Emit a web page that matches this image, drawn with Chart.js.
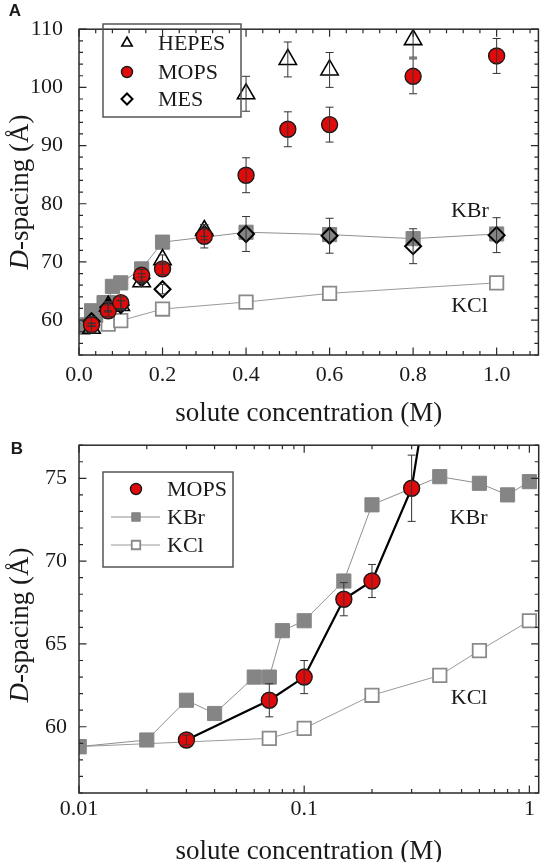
<!DOCTYPE html>
<html>
<head>
<meta charset="utf-8">
<script src="https://cdn.jsdelivr.net/npm/chart.js@4.4.0/dist/chart.umd.min.js"></script>
<style>
  html, body { margin: 0; padding: 0; background: #fff; width: 550px; height: 862px; overflow: hidden; }
  #a { position: absolute; left: 0; top: 0; width: 550px; height: 432px; }
  #b { position: absolute; left: 0; top: 420px; width: 550px; height: 442px; }
</style>
</head>
<body>
<div id="a"><canvas id="chartA"></canvas></div>
<div id="b"><canvas id="chartB"></canvas></div>
<script>
// solute concentration (M) vs D-spacing (Å)
var hepesX = [0.03, 0.07, 0.1, 0.15, 0.2, 0.3, 0.4, 0.5, 0.6, 0.8];
var hepesY = [58.6, 62.4, 62.5, 66.6, 70.4, 75.4, 98.9, 104.8, 103.0, 108.2];
var hepesErr = [0.8, 0.8, 0.8, 0.8, 0.8, 1.0, 3.0, 3.0, 3.0, 3.0];

var mopsX = [0.03, 0.07, 0.1, 0.15, 0.2, 0.3, 0.4, 0.5, 0.6, 0.8, 1.0];
var mopsY = [59.2, 61.6, 63.0, 67.7, 68.8, 74.4, 84.9, 92.8, 93.6, 101.9, 105.4];
var mopsErr = [0.3, 1.0, 1.0, 1.0, 1.0, 2.0, 3.0, 3.0, 3.0, 3.0, 3.0];

var mesX = [0.03, 0.07, 0.1, 0.15, 0.2, 0.3, 0.4, 0.6, 0.8, 1.0];
var mesY = [59.8, 62.2, 62.6, 67.2, 65.3, 74.8, 74.8, 74.5, 72.7, 74.6];
var mesErr = [0.8, 0.8, 0.8, 0.8, 0.8, 1.0, 3.0, 3.0, 3.0, 3.0];

var kbrX = [0.01, 0.02, 0.03, 0.04, 0.06, 0.07, 0.08, 0.1, 0.15, 0.2, 0.4, 0.6, 0.8, 1.0];
var kbrY = [58.8, 59.2, 61.6, 60.8, 63.0, 63.0, 65.8, 66.4, 68.8, 73.4, 75.1, 74.7, 74.0, 74.8];

var kclX = [0.01, 0.07, 0.1, 0.2, 0.4, 0.6, 1.0];
var kclY = [58.8, 59.3, 59.9, 61.9, 63.1, 64.6, 66.4];

var xTicksA = [0, 0.2, 0.4, 0.6, 0.8, 1.0];
var yTicksA = [60, 70, 80, 90, 100, 110];
var xTicksB = [0.01, 0.1, 1];
var yTicksB = [60, 65, 70, 75];

var SERIF = "'Liberation Serif', 'Times New Roman', serif";
var INK = '#1a1a1a';

function pts(xs, ys) {
  return xs.map(function (x, i) { return { x: x, y: ys[i] }; });
}

// minor tick positions
var minorXA = [], minorYA = [], minorXB = [], minorYB = [];
for (var i = 0; i <= 27; i++) minorXA.push(+(i * 0.04).toFixed(2));
for (var j = 54; j <= 110; j += 2) minorYA.push(j);
[0.01, 0.1].forEach(function (d) { for (var k = 2; k <= 9; k++) minorXB.push(d * k); });
for (var m = 56; m <= 77; m++) minorYB.push(m);

// error bars, drawn on top of the markers
var errorBars = {
  id: 'errorBars',
  afterDatasetsDraw: function (chart) {
    var ctx = chart.ctx, xs = chart.scales.x, ys = chart.scales.y, a = chart.chartArea;
    ctx.save();
    ctx.beginPath();
    ctx.rect(a.left, a.top, a.right - a.left, a.bottom - a.top);
    ctx.clip();
    ctx.strokeStyle = '#333';
    ctx.lineWidth = 1;
    chart.data.datasets.forEach(function (ds) {
      if (!ds.errors) return;
      ds.data.forEach(function (p, i) {
        var e = ds.errors[i];
        if (!e) return;
        var x = xs.getPixelForValue(p.x);
        var y1 = ys.getPixelForValue(p.y - e), y2 = ys.getPixelForValue(p.y + e);
        ctx.beginPath();
        ctx.moveTo(x, y1); ctx.lineTo(x, y2);
        ctx.moveTo(x - 4, y1); ctx.lineTo(x + 4, y1);
        ctx.moveTo(x - 4, y2); ctx.lineTo(x + 4, y2);
        ctx.stroke();
      });
    });
    ctx.restore();
  }
};

// box, inward ticks, titles, legend and labels
var decor = {
  id: 'decor',
  afterDraw: function (chart, args, o) {
    var ctx = chart.ctx, a = chart.chartArea, xs = chart.scales.x, ys = chart.scales.y;
    ctx.save();
    ctx.strokeStyle = '#2a2a2a';
    ctx.lineWidth = 1.5;
    ctx.strokeRect(a.left, a.top, a.right - a.left, a.bottom - a.top);

    ctx.lineWidth = 1.2;
    ctx.beginPath();
    function xt(v, len) {
      var x = xs.getPixelForValue(v);
      if (x < a.left - 0.5 || x > a.right + 0.5) return;
      ctx.moveTo(x, a.bottom); ctx.lineTo(x, a.bottom - len);
      ctx.moveTo(x, a.top); ctx.lineTo(x, a.top + len);
    }
    function yt(v, len) {
      var y = ys.getPixelForValue(v);
      if (y < a.top - 0.5 || y > a.bottom + 0.5) return;
      ctx.moveTo(a.left, y); ctx.lineTo(a.left + len, y);
      ctx.moveTo(a.right, y); ctx.lineTo(a.right - len, y);
    }
    o.minorX.forEach(function (v) { xt(v, 4); });
    o.minorY.forEach(function (v) { yt(v, 4); });
    xs.ticks.forEach(function (t) { xt(t.value, 7.5); });
    ys.ticks.forEach(function (t) { yt(t.value, 7.5); });
    ctx.stroke();

    ctx.fillStyle = INK;
    // x title
    ctx.font = '27px ' + SERIF;
    ctx.textAlign = 'center';
    ctx.textBaseline = 'middle';
    ctx.fillText('solute concentration (M)', (a.left + a.right) / 2, o.xTitleY);

    // y title with italic D
    ctx.save();
    ctx.translate(o.yTitleX, o.yTitleY);
    ctx.rotate(-Math.PI / 2);
    ctx.textAlign = 'left';
    ctx.textBaseline = 'alphabetic';
    ctx.font = 'italic 27px ' + SERIF;
    var wD = ctx.measureText('D').width;
    ctx.font = '27px ' + SERIF;
    var rest = '-spacing (\u00C5)';
    var wR = ctx.measureText(rest).width;
    var x0 = -(wD + wR) / 2;
    ctx.font = 'italic 27px ' + SERIF;
    ctx.fillText('D', x0, 0);
    ctx.font = '27px ' + SERIF;
    ctx.fillText(rest, x0 + wD, 0);
    ctx.restore();

    // panel letter
    ctx.font = 'bold 17px "Liberation Sans", Arial, sans-serif';
    ctx.textAlign = 'center';
    ctx.textBaseline = 'middle';
    ctx.fillText(o.panel[0], o.panel[1], o.panel[2]);

    // in-plot labels
    ctx.font = '22px ' + SERIF;
    o.notes.forEach(function (n) {
      ctx.fillText(n.text, xs.getPixelForValue(n.x), ys.getPixelForValue(n.y));
    });

    // legend
    var L = o.legend;
    ctx.strokeStyle = '#555';
    ctx.lineWidth = 1.5;
    ctx.strokeRect(L.box[0], L.box[1], L.box[2], L.box[3]);
    L.items.forEach(function (it, k) {
      var ds = chart.data.datasets[it.ds];
      var y = L.ys[k];
      if (it.line) {
        ctx.strokeStyle = ds.borderColor;
        ctx.lineWidth = 1;
        ctx.beginPath();
        ctx.moveTo(L.markX - 25, y); ctx.lineTo(L.markX + 24, y);
        ctx.stroke();
      }
      ctx.fillStyle = ds.pointBackgroundColor;
      ctx.strokeStyle = ds.pointBorderColor;
      ctx.lineWidth = ds.pointBorderWidth;
      Chart.helpers.drawPoint(ctx, {
        pointStyle: ds.pointStyle, radius: it.r, rotation: 0, borderWidth: ds.pointBorderWidth
      }, L.markX, y);
      ctx.fillStyle = INK;
      ctx.font = '22px ' + SERIF;
      ctx.textAlign = 'left';
      ctx.textBaseline = 'middle';
      ctx.fillText(it.label, L.textX, y + 1);
    });
    ctx.restore();
  }
};

function mopsSet(line) {
  return {
    label: 'MOPS', data: pts(mopsX, mopsY), errors: mopsErr,
    showLine: line, borderColor: '#000', borderWidth: 2.2,
    pointStyle: 'circle', pointRadius: 8,
    pointBackgroundColor: '#e10a0a', pointBorderColor: '#1a1a1a', pointBorderWidth: 1.4,
    order: 1
  };
}
function kbrSet() {
  return {
    label: 'KBr', data: pts(kbrX, kbrY),
    showLine: true, borderColor: '#8f8f8f', borderWidth: 1,
    pointStyle: 'rect', pointRadius: 10,
    pointBackgroundColor: '#858585', pointBorderColor: '#858585', pointBorderWidth: 1,
    order: 4
  };
}
function kclSet() {
  return {
    label: 'KCl', data: pts(kclX, kclY),
    showLine: true, borderColor: '#9a9a9a', borderWidth: 1,
    pointStyle: 'rect', pointRadius: 9.5,
    pointBackgroundColor: '#ffffff', pointBorderColor: '#8a8a8a', pointBorderWidth: 1.8,
    order: 5
  };
}

function axis(type, min, max, ticks, fmt, pad, size, isY) {
  return {
    type: type, min: min, max: max,
    grid: { display: false, drawTicks: false }, border: { display: false },
    afterBuildTicks: function (s) { s.ticks = ticks.map(function (v) { return { value: v }; }); },
    afterFit: function (s) { if (isY) s.width = size; else s.height = size; },
    ticks: {
      font: { family: SERIF, size: 22 }, color: INK, padding: pad,
      maxRotation: 0, autoSkip: false, callback: fmt
    }
  };
}

var common = {
  animation: false, responsive: true, maintainAspectRatio: false, events: [],
  elements: { line: { tension: 0 } }
};

// Panel A
new Chart(document.getElementById('chartA'), {
  type: 'line',
  data: {
    datasets: [
      mopsSet(false),
      {
        label: 'MES', data: pts(mesX, mesY), errors: mesErr, showLine: false,
        pointStyle: 'rectRot', pointRadius: 8,
        pointBackgroundColor: 'rgba(0,0,0,0)', pointBorderColor: '#000', pointBorderWidth: 2,
        borderColor: '#000', order: 2
      },
      {
        label: 'HEPES', data: pts(hepesX, hepesY), errors: hepesErr, showLine: false,
        pointStyle: 'triangle', pointRadius: 10,
        pointBackgroundColor: 'rgba(0,0,0,0)', pointBorderColor: '#000', pointBorderWidth: 1.6,
        borderColor: '#000', order: 3
      },
      kbrSet(),
      kclSet()
    ]
  },
  options: Object.assign({}, common, {
    layout: { padding: { top: 10, right: 3, left: 0, bottom: 0 } },
    scales: {
      x: axis('linear', 0, 1.1, xTicksA, function (v) { return v.toFixed(1); }, 7, 77, false),
      y: axis('linear', 54, 110, yTicksA, function (v) { return String(v); }, 16, 79, true)
    },
    plugins: {
      legend: { display: false }, tooltip: { enabled: false },
      decor: {
        minorX: minorXA, minorY: minorYA,
        xTitleY: 414, yTitleX: 28, yTitleY: 192,
        panel: ['A', 15, 11],
        notes: [{ text: 'KBr', x: 0.936, y: 78.7 }, { text: 'KCl', x: 0.935, y: 62.3 }],
        legend: {
          box: [103, 24, 138, 93], markX: 127, textX: 158, ys: [43, 72, 99],
          items: [{ ds: 2, label: 'HEPES', r: 6 }, { ds: 0, label: 'MOPS', r: 5.5 }, { ds: 1, label: 'MES', r: 5.5 }]
        }
      }
    }
  }),
  plugins: [errorBars, decor]
});

// Panel B
new Chart(document.getElementById('chartB'), {
  type: 'line',
  data: {
    datasets: [mopsSet(true), kbrSet(), kclSet()]
  },
  options: Object.assign({}, common, {
    layout: { padding: { top: 23, right: 3, left: 0, bottom: 0 } },
    scales: {
      x: axis('logarithmic', 0.01, 1.1, xTicksB, function (v) { return String(v); }, 3, 69, false),
      y: axis('linear', 56, 77, yTicksB, function (v) { return String(v); }, 12, 79, true)
    },
    plugins: {
      legend: { display: false }, tooltip: { enabled: false },
      decor: {
        minorX: minorXB, minorY: minorYB,
        xTitleY: 432, yTitleX: 28, yTitleY: 205,
        panel: ['B', 17, 29],
        notes: [{ text: 'KBr', x: 0.537, y: 72.6 }, { text: 'KCl', x: 0.54, y: 61.7 }],
        legend: {
          box: [103, 52, 130, 95], markX: 136, textX: 167, ys: [69, 97, 125],
          items: [{ ds: 0, label: 'MOPS', r: 5.5 }, { ds: 1, label: 'KBr', r: 6, line: true }, { ds: 2, label: 'KCl', r: 6, line: true }]
        }
      }
    }
  }),
  plugins: [errorBars, decor]
});
</script>
</body>
</html>
